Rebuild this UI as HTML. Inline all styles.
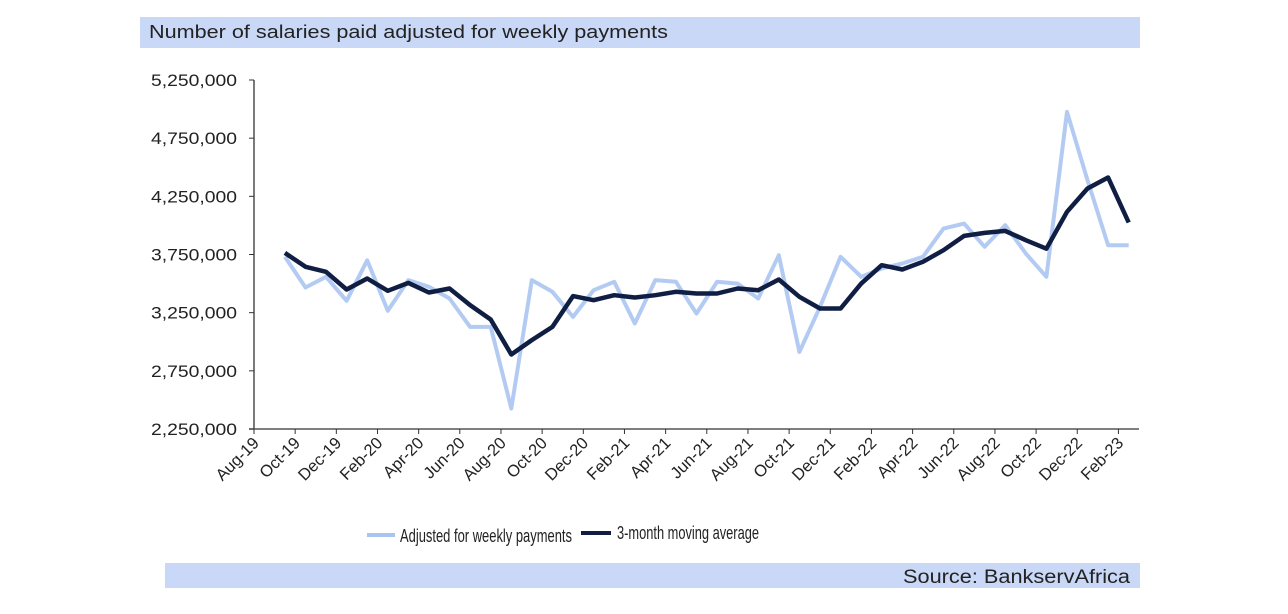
<!DOCTYPE html>
<html><head><meta charset="utf-8"><style>
body{margin:0;background:#fff;width:1288px;height:614px;overflow:hidden;font-family:"Liberation Sans",Arial,sans-serif}
svg{display:block}
text{font-family:"Liberation Sans",Arial,sans-serif;fill:#222}
</style></head><body>
<svg id="chart" width="1288" height="614" viewBox="0 0 1288 614">
<rect x="140" y="17" width="1000" height="31" fill="#c9d8f6"/>
<text x="149" y="38" font-size="18" textLength="519" lengthAdjust="spacingAndGlyphs">Number of salaries paid adjusted for weekly payments</text>
<g id="axes"></g>
<g id="series"></g>
<g>
<line x1="367" y1="535" x2="395" y2="535" stroke="#a9c4ee" stroke-width="4"/>
<text x="400" y="542" font-size="18" textLength="172" lengthAdjust="spacingAndGlyphs">Adjusted for weekly payments</text>
<line x1="581" y1="533" x2="611" y2="533" stroke="#0f1e42" stroke-width="4"/>
<text x="617" y="539" font-size="18" textLength="142" lengthAdjust="spacingAndGlyphs">3-month moving average</text>
</g>
<rect x="165" y="563" width="975" height="25" fill="#c9d8f6"/>
<text x="903" y="583" font-size="19" textLength="227" lengthAdjust="spacingAndGlyphs">Source: BankservAfrica</text>
</svg>
<script>
const months = ["Aug-19","Sep-19","Oct-19","Nov-19","Dec-19","Jan-20","Feb-20","Mar-20","Apr-20","May-20","Jun-20","Jul-20","Aug-20","Sep-20","Oct-20","Nov-20","Dec-20","Jan-21","Feb-21","Mar-21","Apr-21","May-21","Jun-21","Jul-21","Aug-21","Sep-21","Oct-21","Nov-21","Dec-21","Jan-22","Feb-22","Mar-22","Apr-22","May-22","Jun-22","Jul-22","Aug-22","Sep-22","Oct-22","Nov-22","Dec-22","Jan-23","Feb-23"];
const adjusted = [null,3730000,3466000,3558000,3352000,3700000,3266000,3530000,3472000,3372000,3128000,3128000,2426000,3530000,3429000,3214000,3443000,3515000,3157000,3530000,3515000,3243000,3515000,3500000,3372000,3744000,2913000,3300000,3730000,3558000,3630000,3673000,3730000,3973000,4016000,3816000,4002000,3759000,3558000,4976000,4389000,3830000,3830000];
const movingAvg = [null,3764000,3644000,3601000,3449000,3544000,3438000,3506000,3423000,3458000,3315000,3191000,2890000,3014000,3128000,3392000,3357000,3400000,3380000,3400000,3429000,3415000,3415000,3458000,3443000,3535000,3386000,3286000,3286000,3500000,3658000,3621000,3687000,3787000,3910000,3936000,3953000,3873000,3800000,4117000,4317000,4412000,4025000];
const yTicks = [2250000,2750000,3250000,3750000,4250000,4750000,5250000];

const NS="http://www.w3.org/2000/svg";
const X0=254,X1=1139,Y0=429,Y1=80,YMIN=2250000,YMAX=5250000;
const step=(X1-X0)/months.length;
function xEdge(i){return X0+step*i;}
function xc(i){return X0+step*(i+0.5);}
function y(v){return Y0-(v-YMIN)/(YMAX-YMIN)*(Y0-Y1);}
function mk(tag,attrs,parent){const e=document.createElementNS(NS,tag);for(const k in attrs)e.setAttribute(k,attrs[k]);parent.appendChild(e);return e;}
const axes=document.getElementById('axes');
const yAxis=mk('line',{x1:X0,y1:Y1,x2:X0,y2:Y0,stroke:'#333','stroke-width':1.3},axes);


const xAxis=mk('line',{x1:X0-5,y1:Y0,x2:X1,y2:Y0,stroke:'#555','stroke-width':1.5},axes);


yTicks.forEach(v=>{
  const t=mk('line',{x1:X0-5,y1:y(v),x2:X0,y2:y(v),stroke:'#333'},axes);
  
  
  const l=mk('text',{x:X0-103,y:y(v)+6,'font-size':17,textLength:86,lengthAdjust:'spacingAndGlyphs'},axes);
  
  
  l.textContent=v.toLocaleString('en-US');
});
months.forEach((m,i)=>{
  if(i%2!==0)return;
  const x=xEdge(i);
  const t=mk('line',{x1:x,y1:Y0,x2:x,y2:Y0+5,stroke:'#333'},axes);
  
  
  const l=mk('text',{x:x+6,y:Y0+15,'font-size':16.5,'text-anchor':'end',transform:`rotate(-45 ${x+6} ${Y0+15})`},axes);
  
  
  l.textContent=m;
});
function pathOf(arr){let d='';arr.forEach((v,i)=>{if(v==null)return;d+=(d?'L':'M')+xc(i).toFixed(1)+','+y(v).toFixed(1);});return d;}
const series=document.getElementById('series');
const p1=mk('path',{d:pathOf(adjusted),fill:'none',stroke:'#b3cbf2','stroke-width':4,'stroke-linejoin':'round'},series);


const p2=mk('path',{d:pathOf(movingAvg),fill:'none',stroke:'#0f1e42','stroke-width':4.5,'stroke-linejoin':'round'},series);


</script>
</body></html>
